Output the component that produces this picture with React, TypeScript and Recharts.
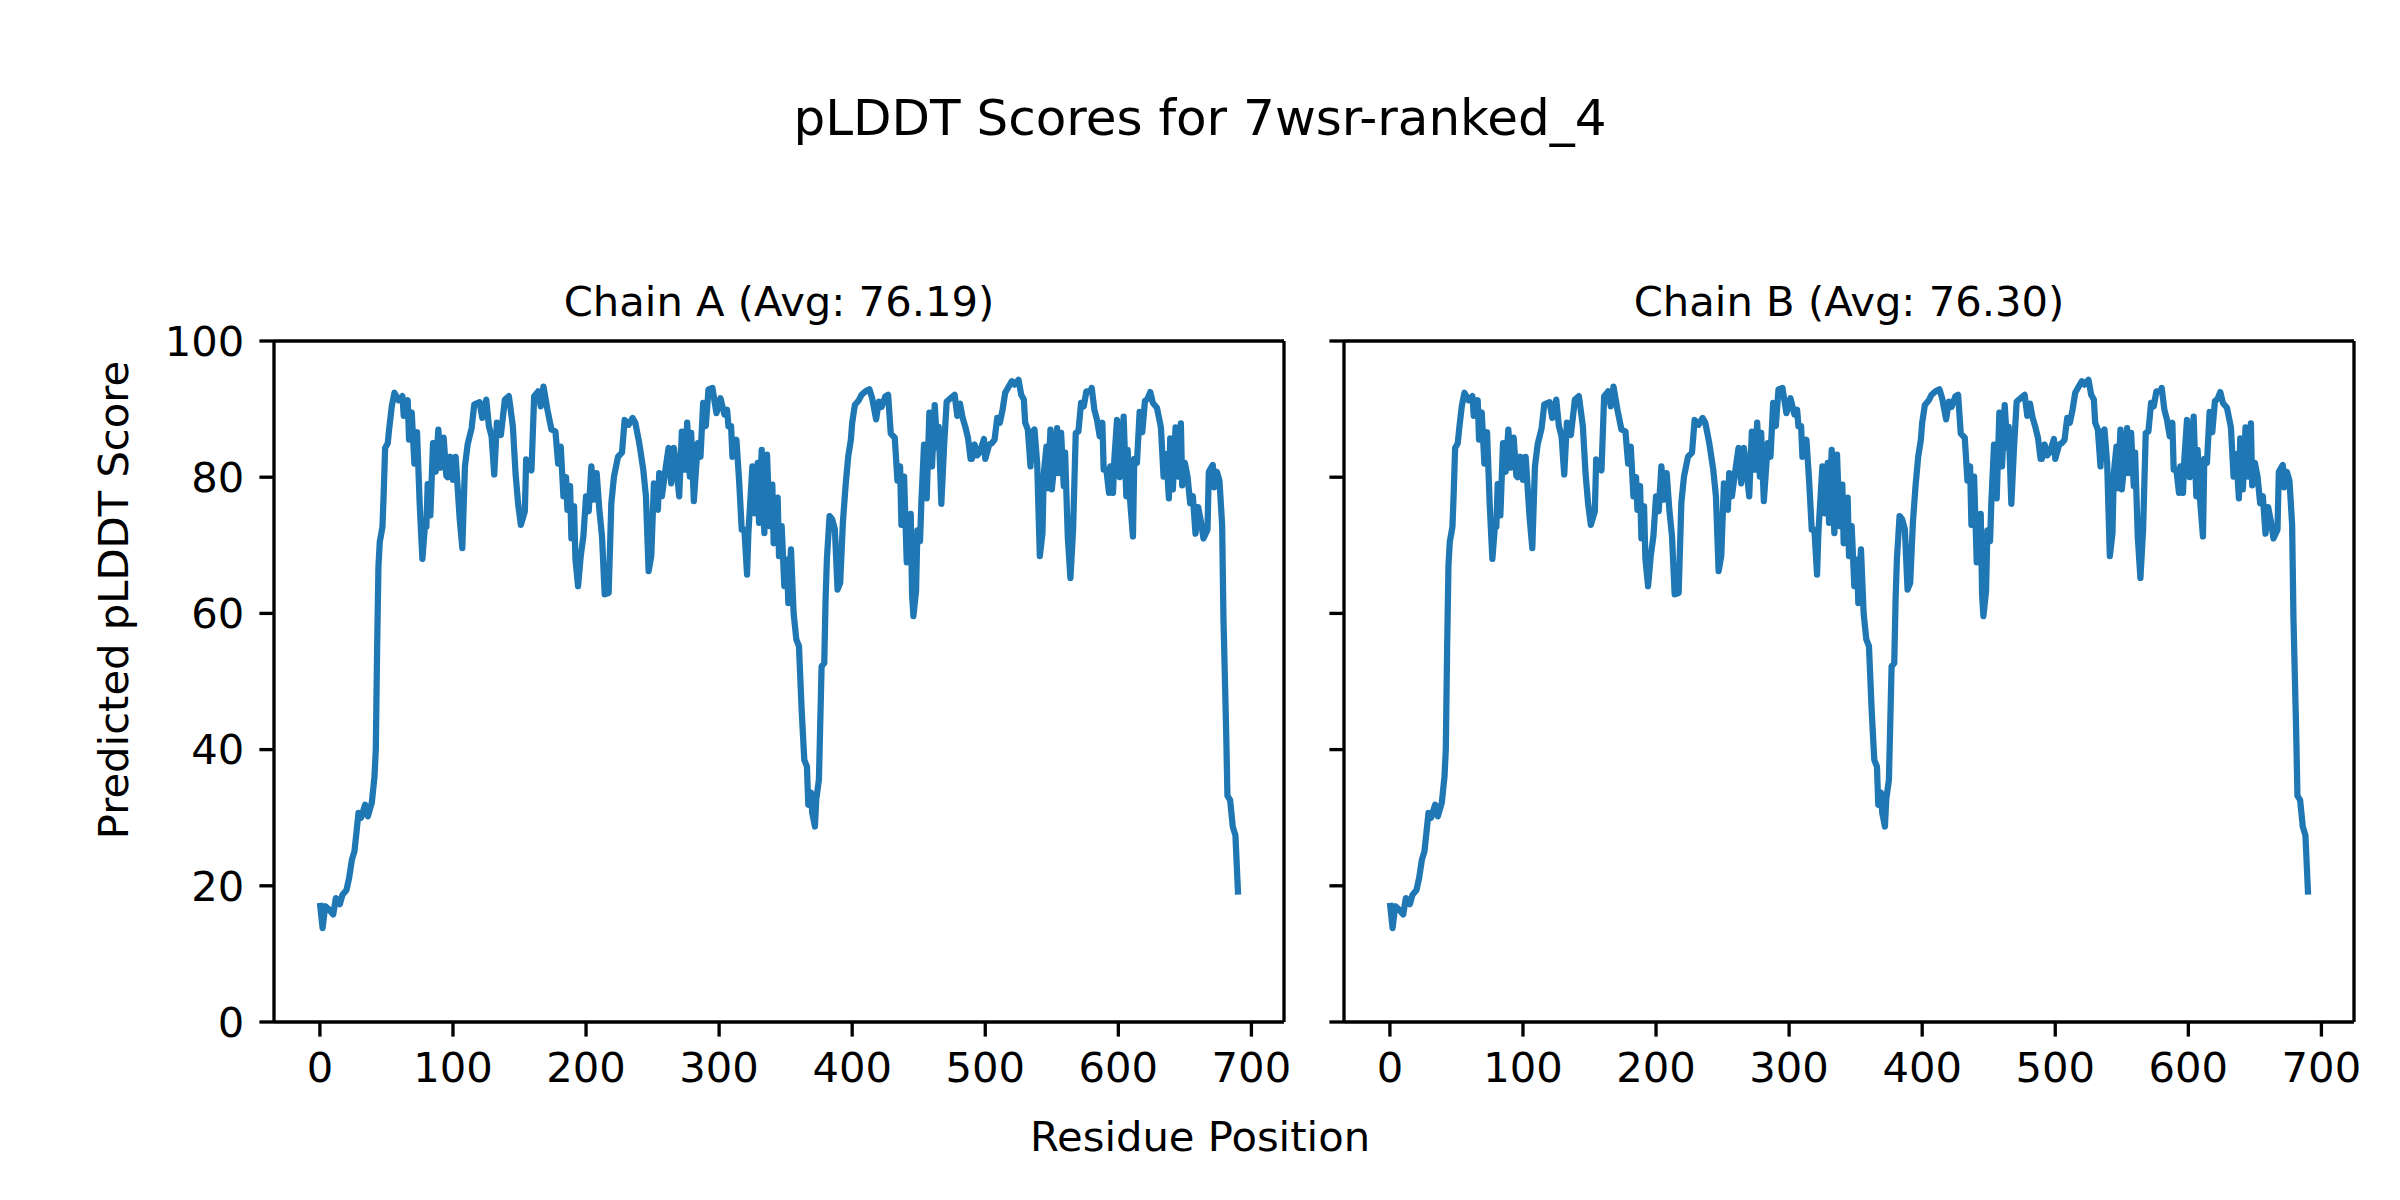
import { LineChart, Line, XAxis, YAxis, ReferenceLine } from 'recharts';

// residue positions that were sampled along the trace
const positions = [
  0, 2, 4, 7, 10, 12, 15, 17, 20, 22, 24, 26, 29, 31, 34, 36, 39, 41, 42, 43,
  44, 45, 47, 48, 49, 51, 52, 54, 56, 59, 62, 63, 66, 67, 69, 71, 73, 75, 77, 79,
  80, 81, 83, 85, 87, 89, 91, 93, 95, 96, 98, 100, 102, 105, 107, 109, 111, 114, 116, 120,
  122, 125, 127, 129, 131, 133, 136, 139, 142, 145, 147, 149, 151, 154, 155, 159, 161, 164, 166, 168,
  171, 174, 177, 179, 181, 183, 185, 186, 188, 189, 191, 192, 194, 196, 198, 200, 202, 204, 206, 208,
  210, 212, 214, 217, 219, 221, 224, 227, 229, 232, 235, 237, 240, 243, 245, 247, 249, 251, 254, 255,
  257, 260, 262, 264, 266, 268, 270, 272, 274, 276, 278, 279, 281, 284, 286, 288, 290, 292, 295, 298,
  301, 304, 306, 307, 309, 310, 313, 315, 317, 319, 321, 322, 325, 327, 329, 330, 332, 334, 336, 338,
  340, 341, 344, 345, 347, 349, 351, 352, 354, 356, 358, 360, 362, 364, 366, 367, 369, 370, 372, 373,
  375, 377, 379, 380, 381, 383, 385, 387, 389, 391, 393, 395, 397, 399, 400, 402, 405, 407, 410, 413,
  415, 418, 420, 422, 425, 427, 429, 432, 434, 436, 437, 439, 441, 444, 445, 446, 448, 449, 451, 452,
  454, 456, 458, 460, 462, 464, 465, 467, 469, 471, 474, 477, 479, 481, 483, 485, 487, 489, 490, 492,
  494, 496, 499, 500, 503, 505, 507, 509, 511, 513, 515, 517, 520, 522, 525, 527, 529, 530, 532, 534,
  535, 537, 539, 541, 543, 544, 546, 547, 549, 550, 552, 554, 555, 557, 559, 560, 562, 564, 566, 568,
  570, 572, 574, 576, 579, 580, 582, 584, 586, 588, 589, 591, 593, 594, 596, 597, 599, 601, 603, 604,
  606, 607, 609, 611, 612, 614, 616, 618, 620, 622, 624, 626, 629, 631, 632, 634, 636, 638, 639, 641,
  643, 645, 647, 648, 650, 652, 654, 656, 658, 660, 662, 664, 667, 668, 671, 672, 674, 676, 678, 679,
  681, 682, 684, 686, 688, 690,
];

const chainAScores = [
  17.5, 13.8, 17, 16.5, 15.8, 18.2, 17.3, 18.7, 19.4, 21.2, 23.8, 25.1, 30.7, 30, 31.9, 30.2, 32.2, 36, 40, 55,
  67, 70.5, 72.7, 78, 84.3, 85, 87, 90.4, 92.4, 91.3, 91.9, 89, 91.3, 85.5, 89.5, 82, 86.6, 76, 68, 73,
  72.7, 79, 74.4, 85, 80.8, 87, 81.4, 85.8, 80.2, 80, 83, 79.6, 83, 74, 69.6, 81.6, 84.8, 87.2, 90.7, 91,
  88.7, 91.4, 87.5, 86, 80.4, 88, 86.2, 91.4, 91.9, 87.5, 80.6, 76, 73, 75, 82.6, 81, 91.9, 92.6, 90.4, 93.3,
  89.9, 87, 86.7, 82, 84.5, 77.2, 80, 75.2, 78.7, 71, 75.7, 68, 64, 68.4, 71.3, 77.2, 75, 81.6, 76.7, 80.6,
  75.2, 71.3, 62.8, 63, 76.2, 80.1, 83, 83.6, 88.4, 87.7, 88.7, 88, 85, 81.1, 77.2, 66.2, 68.4, 79.1, 75.2, 80.6,
  77.2, 81.6, 84.3, 79.1, 84.3, 81.1, 77.2, 86.7, 81.1, 88, 80.1, 86.5, 76.5, 85, 83, 90.9, 87.5, 92.9, 93.1, 89.4,
  91.6, 89.2, 89.9, 87.5, 87.5, 83, 85.5, 79.6, 72.3, 72.3, 65.7, 71.8, 81.6, 74.7, 82.1, 73.3, 84, 71.8, 83.3, 72.8,
  78.9, 70.3, 77, 68.4, 72.8, 64, 67.9, 61.5, 69.4, 60, 56.2, 55.2, 45.9, 38.5, 37.5, 31.9, 33.7, 30.7, 28.7, 32.7,
  35.6, 52.2, 52.7, 62, 68, 74.3, 73.8, 72.3, 63.5, 64.5, 73.3, 78.7, 83, 85.5, 88, 90.6, 91.3, 92.1, 92.6, 92.9,
  91.6, 88.5, 91.1, 90.3, 91.9, 92.1, 86.4, 85.8, 79.5, 81.6, 73, 80.1, 67.5, 74.6, 62.8, 59.6, 63.3, 72.2, 70.6, 76.4,
  84.8, 76.9, 89.5, 81.6, 90.6, 84.3, 87.4, 76.1, 84.3, 91.1, 91.6, 92.1, 89, 90.8, 88.7, 87.4, 85.8, 82.7, 82.7, 84.8,
  83.2, 83.7, 85.6, 82.7, 84.8, 85, 85.5, 88.7, 88, 89.9, 92.4, 93.1, 94.1, 93.6, 94.3, 92.1, 91.4, 88, 87, 81.6,
  86.5, 87, 82.1, 68.4, 71.8, 80.6, 84.5, 78.4, 87, 78.2, 82.1, 87.2, 80.6, 86.5, 78.7, 83.6, 71.3, 65.2, 72.3, 86.5,
  86.7, 90.9, 90.4, 92.6, 92.6, 93.1, 89.9, 88.4, 86, 88, 81.1, 81.1, 77.7, 81.6, 77.7, 82.6, 88.4, 80, 86, 88.9,
  77.2, 84, 76.2, 71.3, 82.7, 82.1, 89.6, 86.6, 91.2, 91.5, 92.5, 90.9, 90.2, 88.3, 87.3, 80.1, 83.4, 76.9, 85.7, 78.2,
  87.3, 80.1, 87.9, 78.8, 82.1, 80.1, 76.2, 77.2, 71.7, 75.6, 73.6, 71, 72.3, 80.8, 81.8, 78.5, 80.8, 79.5, 73, 59.3,
  43, 33.2, 32.6, 28.7, 27.4, 18.7,
];

// chain B follows the same profile as chain A at this resolution
const chainBScores = chainAScores;

const xTicks = [0, 100, 200, 300, 400, 500, 600, 700];
const yTicks = [0, 20, 40, 60, 80, 100];

const X_MIN = -34.5;
const X_MAX = 724.5;

const BLUE = '#1f77b4';
const FONT = '"DejaVu Sans", sans-serif';
const SPINE = 3.33;

function ChainPanel({ scores, showLabels, width, margin, yWidth }: any) {
  const data = positions.map((p, i) => ({ pos: p, score: scores[i] }));
  return (
    <LineChart width={width} height={1200} data={data} margin={margin}>
      <XAxis
        dataKey="pos"
        type="number"
        domain={[X_MIN, X_MAX]}
        ticks={xTicks}
        allowDataOverflow
        height={80}
        tickSize={14.6}
        tickMargin={16}
        axisLine={{ stroke: '#000', strokeWidth: SPINE }}
        tickLine={{ stroke: '#000', strokeWidth: SPINE }}
        tick={{ fill: '#000', fontSize: 41.7, fontFamily: FONT }}
      />
      <YAxis
        type="number"
        domain={[0, 100]}
        ticks={yTicks}
        width={yWidth}
        tickSize={14.6}
        tickMargin={15}
        tickFormatter={showLabels ? (v: number) => String(v) : () => ''}
        axisLine={{ stroke: '#000', strokeWidth: SPINE }}
        tickLine={{ stroke: '#000', strokeWidth: SPINE }}
        tick={{ fill: '#000', fontSize: 41.7, fontFamily: FONT }}
      />
      {/* top and right spines */}
      <ReferenceLine y={100} stroke="#000" strokeWidth={SPINE} />
      <ReferenceLine x={X_MAX} stroke="#000" strokeWidth={SPINE} />
      <Line
        dataKey="score"
        type="linear"
        stroke={BLUE}
        strokeWidth={6.25}
        strokeLinejoin="round"
        dot={false}
        isAnimationActive={false}
      />
    </LineChart>
  );
}

export default function App() {
  return (
    <div
      style={{
        position: 'absolute',
        left: 0,
        top: 0,
        width: 2400,
        height: 1200,
        background: '#fff',
        fontFamily: FONT,
      }}
    >
      <div style={{ position: 'absolute', left: 0, top: 0 }}>
        <ChainPanel
          scores={chainAScores}
          showLabels
          width={1300}
          yWidth={120}
          margin={{ top: 341, right: 16, bottom: 98, left: 154 }}
        />
      </div>
      <div style={{ position: 'absolute', left: 1300, top: 0 }}>
        <ChainPanel
          scores={chainBScores}
          showLabels={false}
          width={1100}
          yWidth={20}
          margin={{ top: 341, right: 46, bottom: 98, left: 24 }}
        />
      </div>
      <svg
        width={2400}
        height={1200}
        style={{ position: 'absolute', left: 0, top: 0, pointerEvents: 'none' }}
        fontFamily={FONT}
      >
        <text x={1200} y={135} textAnchor="middle" fontSize={50} fill="#000">
          pLDDT Scores for 7wsr-ranked_4
        </text>
        <text x={779} y={316} textAnchor="middle" fontSize={41.7} fill="#000">
          Chain A (Avg: 76.19)
        </text>
        <text x={1849} y={316} textAnchor="middle" fontSize={41.7} fill="#000">
          Chain B (Avg: 76.30)
        </text>
        <text x={1200} y={1151} textAnchor="middle" fontSize={41.7} fill="#000">
          Residue Position
        </text>
        <text
          x={128}
          y={600}
          textAnchor="middle"
          fontSize={41.7}
          fill="#000"
          transform="rotate(-90 128 600)"
        >
          Predicted pLDDT Score
        </text>
      </svg>
    </div>
  );
}
